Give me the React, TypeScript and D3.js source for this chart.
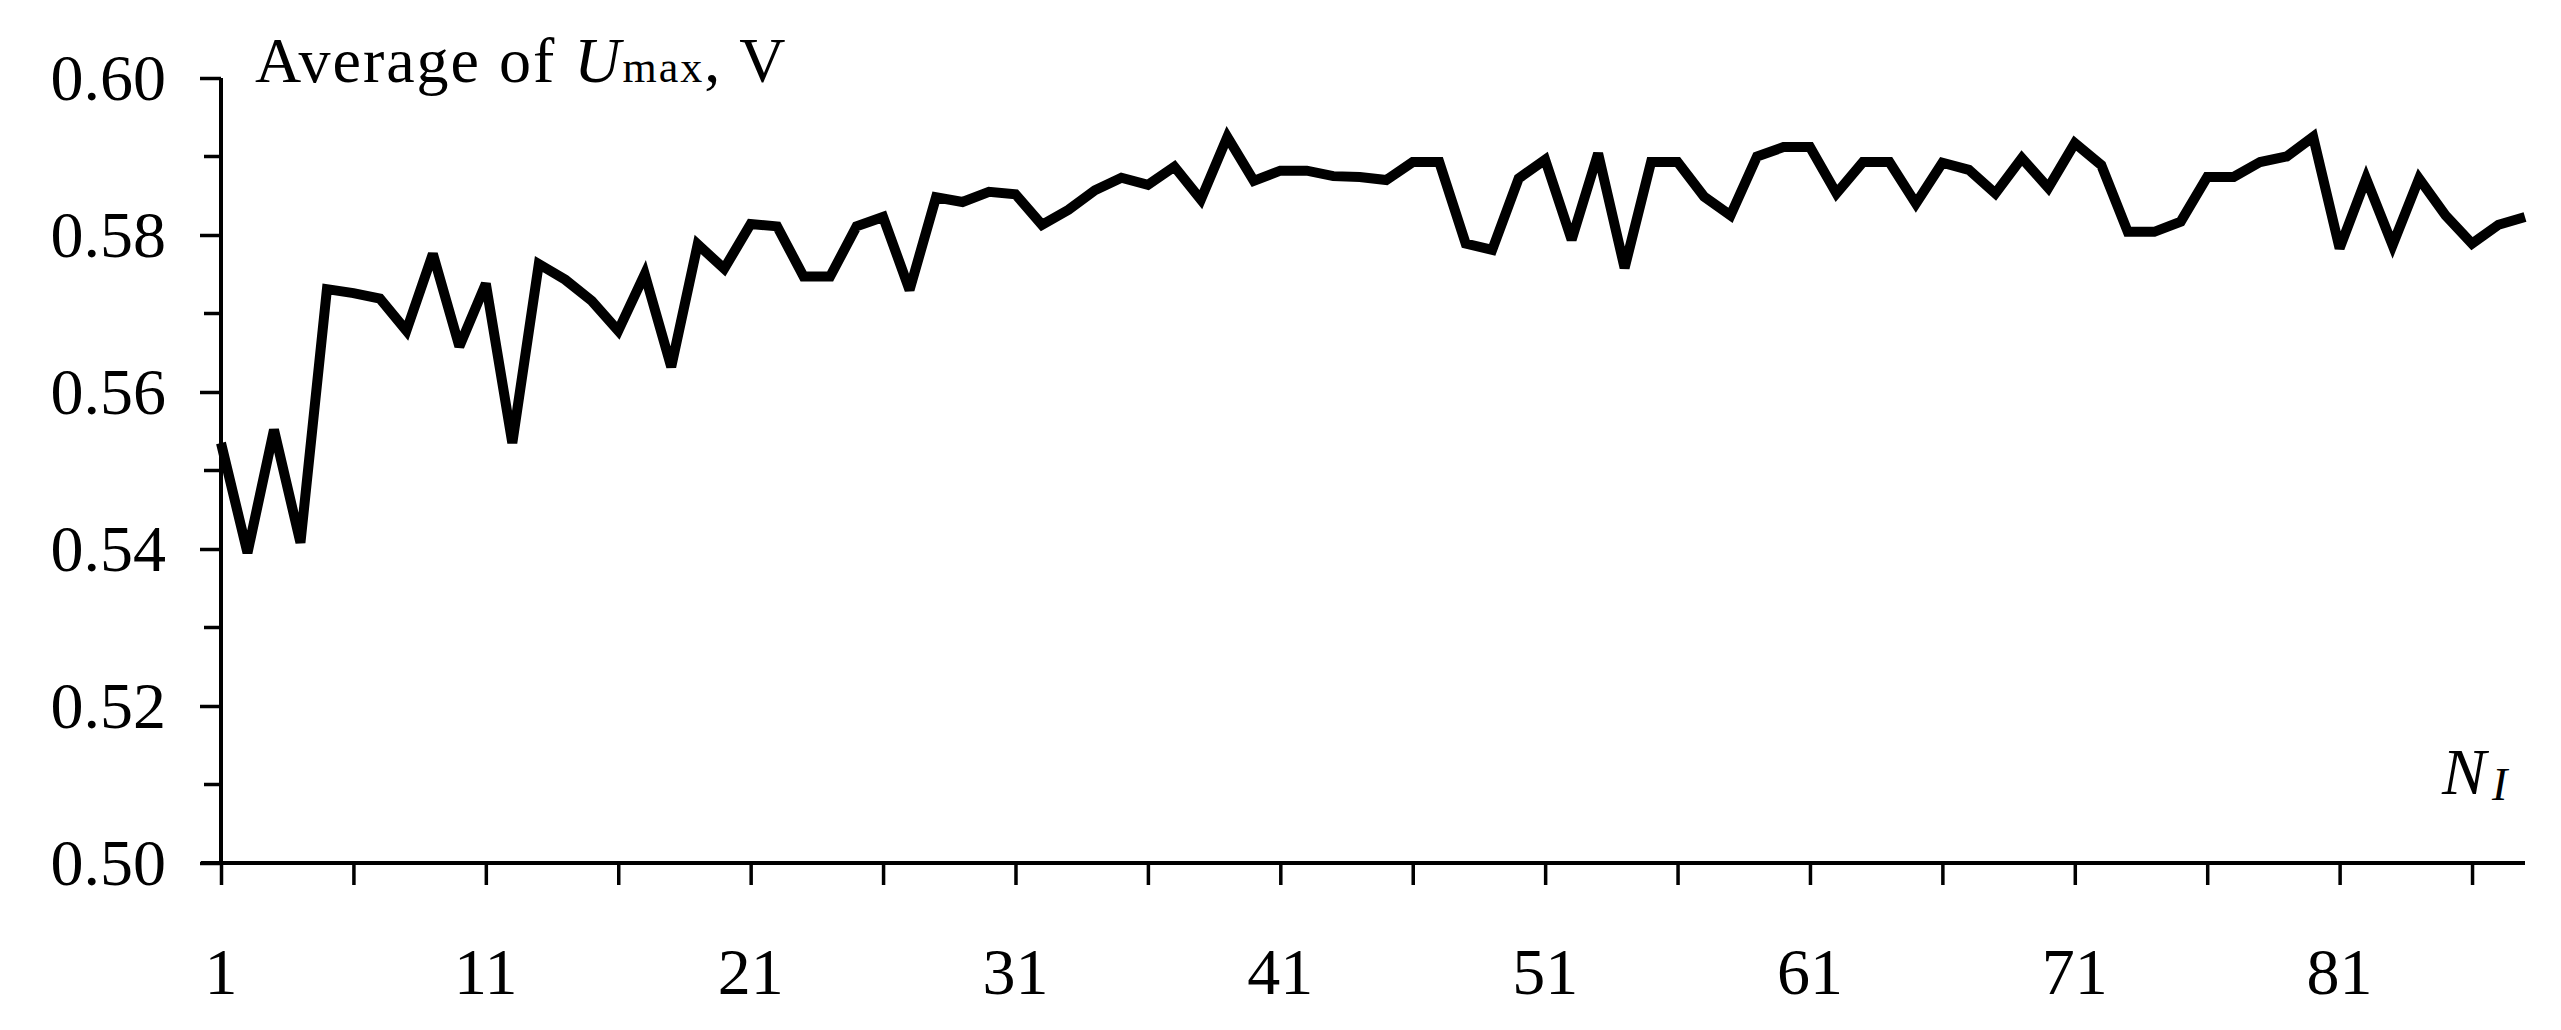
import React, { useEffect, useRef } from 'react';
import * as d3 from 'd3';

// average Umax per index N_I
const nIndex: number[] = d3.range(1, 89);
const avgUmax: number[] = [
  0.5535, 0.5395, 0.5552, 0.5408, 0.5731, 0.5726, 0.5719, 0.5678, 0.5776, 0.5658,
  0.5738, 0.5535, 0.5763, 0.5743, 0.5716, 0.5678, 0.575, 0.5632, 0.5788, 0.5757,
  0.5814, 0.5811, 0.5747, 0.5747, 0.5811, 0.5823, 0.573, 0.5848, 0.5842, 0.5855,
  0.5852, 0.5813, 0.5832, 0.5857, 0.5873, 0.5864, 0.5887, 0.5845, 0.5925, 0.5869,
  0.5882, 0.5882, 0.5875, 0.5874, 0.587, 0.5893, 0.5893, 0.5789, 0.5781, 0.5872,
  0.5896, 0.5794, 0.5904, 0.5758, 0.5893, 0.5893, 0.5849, 0.5825, 0.59, 0.5912,
  0.5912, 0.5853, 0.5893, 0.5893, 0.584, 0.5892, 0.5883, 0.5853, 0.5898, 0.586,
  0.5917, 0.5889, 0.5804, 0.5804, 0.5817, 0.5874, 0.5874, 0.5893, 0.59, 0.5925,
  0.5783, 0.5872, 0.5787, 0.5872, 0.5825, 0.5789, 0.5813, 0.5823,
];

const yMajorTicks: number[] = [0.5, 0.52, 0.54, 0.56, 0.58, 0.6];
const yMinorTicks: number[] = [0.51, 0.53, 0.55, 0.57, 0.59];
const xTicks: number[] = [1, 6, 11, 16, 21, 26, 31, 36, 41, 46, 51, 56, 61, 66, 71, 76, 81, 86];
const xTickLabels: number[] = [1, 11, 21, 31, 41, 51, 61, 71, 81];

const W = 2561;
const H = 1030;
const FONT = '"Liberation Serif", "Times New Roman", serif';

export default function App() {
  const ref = useRef<SVGSVGElement>(null);

  useEffect(() => {
    const svg = d3.select(ref.current);
    svg.selectAll('*').remove();

    const x0 = 221, x1 = 2525, yTop = 78, yBot = 863;

    const xScale = d3.scaleLinear().domain([1, 88]).range([x0, x1]);
    const yScale = d3.scaleLinear().domain([0.5, 0.6]).range([yBot, yTop]);

    // y axis, ticks pointing left
    const yAxis = svg.append('g').attr('transform', `translate(${x0},0)`);
    yAxis.call(
      d3.axisLeft(yScale).tickValues(yMajorTicks).tickSize(21).tickPadding(34)
        .tickFormat(d3.format('.2f') as any)
    );
    yAxis.selectAll('line').attr('stroke-width', 3.5).attr('stroke', '#000');
    yAxis.select('.domain').attr('stroke-width', 4).attr('stroke', '#000')
      .attr('d', `M0,${yTop}V${yBot}`);
    yAxis.selectAll('text').attr('font-family', FONT).attr('font-size', 66).attr('fill', '#000');

    // minor ticks
    svg.append('g').selectAll('line').data(yMinorTicks).enter().append('line')
      .attr('x1', x0 - 17).attr('x2', x0)
      .attr('y1', d => yScale(d)).attr('y2', d => yScale(d))
      .attr('stroke', '#000').attr('stroke-width', 3.5);

    // x axis
    const xAxis = svg.append('g').attr('transform', `translate(0,${yBot})`);
    xAxis.call(d3.axisBottom(xScale).tickValues(xTicks).tickSize(22).tickFormat(() => ''));
    xAxis.selectAll('line').attr('stroke-width', 3.5).attr('stroke', '#000');
    xAxis.select('.domain').attr('stroke-width', 4).attr('stroke', '#000')
      .attr('d', `M${x0 - 20},0H${x1}`);

    svg.append('g').selectAll('text').data(xTickLabels).enter().append('text')
      .attr('x', d => xScale(d)).attr('y', 994)
      .attr('text-anchor', 'middle')
      .attr('font-family', FONT).attr('font-size', 66)
      .text(d => String(d));

    // the line
    const line = d3.line<number>()
      .x((d, i) => xScale(nIndex[i]))
      .y(d => yScale(d));

    svg.append('path')
      .datum(avgUmax)
      .attr('d', line)
      .attr('fill', 'none')
      .attr('stroke', '#000')
      .attr('stroke-width', 10)
      .attr('stroke-linejoin', 'miter')
      .attr('stroke-miterlimit', 3);

    // axis titles
    const title = svg.append('text')
      .attr('x', 255).attr('y', 82)
      .attr('font-family', FONT).attr('font-size', 64)
      .attr('letter-spacing', 2);
    title.append('tspan').text('Average of ');
    title.append('tspan').attr('font-style', 'italic').text('U');
    title.append('tspan').attr('font-size', 44).text('max');
    title.append('tspan').text(', V');

    const nl = svg.append('text')
      .attr('x', 2442).attr('y', 794)
      .attr('font-family', FONT).attr('font-size', 66).attr('font-style', 'italic');
    nl.append('tspan').text('N');
    nl.append('tspan').attr('font-size', 46).attr('dx', 6).attr('dy', 6).text('I');
  }, []);

  return (
    <div style={{ position: 'absolute', left: 0, top: 0 }}>
      <svg ref={ref} width={W} height={H} style={{ display: 'block', background: '#fff' }} />
    </div>
  );
}
